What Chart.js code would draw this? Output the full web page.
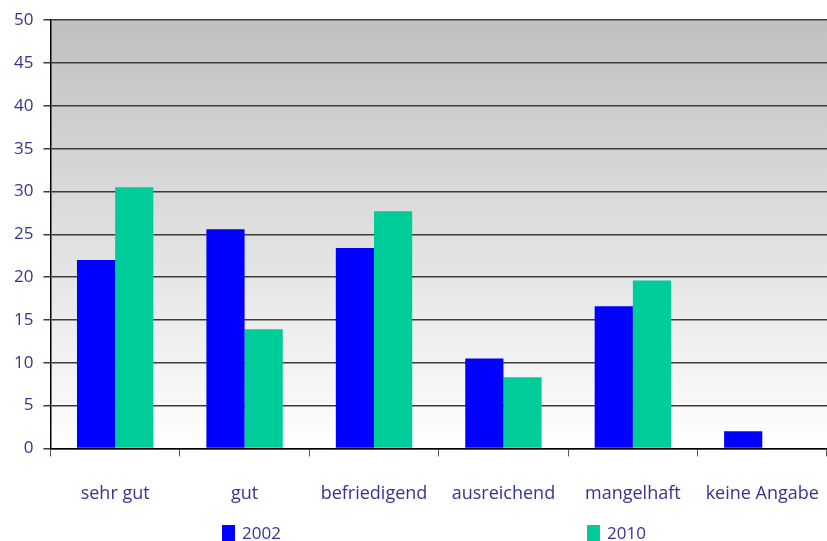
<!DOCTYPE html>
<html>
<head>
<meta charset="utf-8">
<script src="https://cdn.jsdelivr.net/npm/chart.js@4/dist/chart.umd.min.js"></script>
<style>
  body { margin: 0; background: #fff; }
  #wrap { position: relative; width: 827px; height: 541px; }
  .leg { position: absolute; top: 521px; font: 17px "Open Sans", sans-serif; color: #35358f; display: flex; align-items: center; }
  .leg span.box { display: inline-block; width: 13px; height: 16px; margin-right: 7px; }
</style>
</head>
<body>
<div id="wrap">
  <canvas id="gradesChart" width="827" height="541"></canvas>
  <div class="leg" style="left:222px"><span class="box" style="background:#0000ff"></span>2002</div>
  <div class="leg" style="left:587px"><span class="box" style="background:#00cc99"></span>2010</div>
</div>
<script>
const categories = ["sehr gut", "gut", "befriedigend", "ausreichend", "mangelhaft", "keine Angabe"];
const values2002 = [22, 25.6, 23.4, 10.5, 16.6, 2];
const values2010 = [30.5, 13.9, 27.7, 8.3, 19.6, 0];
const yTicks = [0, 5, 10, 15, 20, 25, 30, 35, 40, 45, 50];

const labelColor = "#35358f";

// grey-to-white fill behind the bars
const plotBackground = {
  id: "plotBackground",
  beforeDraw(chart) {
    const { ctx, chartArea } = chart;
    const grad = ctx.createLinearGradient(0, chartArea.top, 0, chartArea.bottom);
    grad.addColorStop(0, "#c0c0c0");
    grad.addColorStop(1, "#ffffff");
    ctx.save();
    ctx.fillStyle = grad;
    ctx.fillRect(chartArea.left, chartArea.top, chartArea.right - chartArea.left, chartArea.bottom - chartArea.top);
    ctx.restore();
  },
};

const ctx = document.getElementById("gradesChart").getContext("2d");

new Chart(ctx, {
  type: "bar",
  data: {
    labels: categories,
    datasets: [
      {
        label: "2002",
        data: values2002,
        backgroundColor: "#0000ff",
        borderWidth: 0,
      },
      {
        label: "2010",
        data: values2010,
        backgroundColor: "#00cc99",
        borderWidth: 0,
      },
    ],
  },
  options: {
    responsive: false,
    animation: false,
    datasets: {
      bar: { categoryPercentage: 0.59, barPercentage: 1.0 },
    },
    layout: {
      padding: { top: 16, left: 4, right: 0, bottom: 9 },
    },
    plugins: {
      legend: { display: false },
      tooltip: { enabled: false },
    },
    scales: {
      x: {
        // let the last label run to the canvas edge like the original
        afterFit(axis) {
          axis.paddingLeft = 0;
          axis.paddingRight = 0;
        },
        grid: {
          offset: true,
          drawOnChartArea: false,
          drawTicks: true,
          tickLength: 8,
          color: "#555555",
        },
        border: { color: "#000000", width: 1.5 },
        ticks: {
          color: labelColor,
          font: { family: "'Open Sans', sans-serif", size: 18 },
          padding: 27,
          maxRotation: 0,
        },
      },
      y: {
        min: 0,
        max: 50,
        afterBuildTicks(axis) {
          axis.ticks = yTicks.map((v) => ({ value: v }));
        },
        grid: {
          color: "#3c3c3c",
          lineWidth: 1.5,
          tickLength: 7,
        },
        border: { color: "#000000", width: 1.5 },
        ticks: {
          color: labelColor,
          font: { family: "'Open Sans', sans-serif", size: 17 },
          padding: 10,
        },
      },
    },
  },
  plugins: [plotBackground],
});
</script>
</body>
</html>
